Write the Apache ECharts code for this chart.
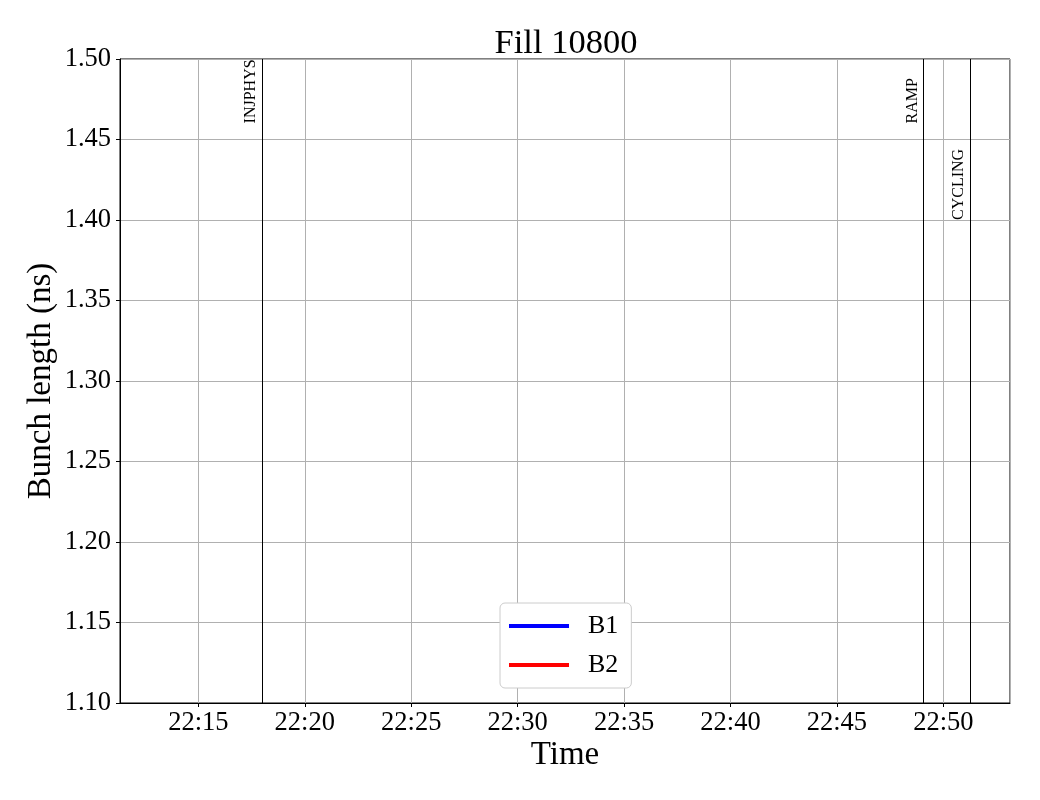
<!DOCTYPE html>
<html>
<head>
<meta charset="utf-8">
<script src="https://cdn.jsdelivr.net/npm/echarts@6/dist/echarts.min.js"></script>
<style>
html,body{margin:0;padding:0;background:#fff;}
#chart{width:1040px;height:800px;}
</style>
</head>
<body>
<div id="chart"></div>
<script>
// Time in minutes since midnight
const xMin = 1331.32;   // ~22:11:19
const xMax = 1373.13;   // ~22:53:08
const yMin = 1.10;
const yMax = 1.50;
const yInterval = 0.05;

const seriesNames = ['B1', 'B2'];
const seriesColors = ['#0000ff', '#ff0000'];
const b1Values = [];   // no data shown in the figure
const b2Values = [];

const modeNames = ['INJPHYS', 'RAMP', 'CYCLING'];
const modeTimes = [1337.98, 1369.06, 1371.25];
const modeLabelY = [1.46, 1.46, 1.40];

const FONT = 'Liberation Serif';

function fmtTime(v) {
  const m = Math.round(v);
  const h = Math.floor(m / 60);
  const mm = m % 60;
  return String(h).padStart(2, '0') + ':' + String(mm).padStart(2, '0');
}

const chart = echarts.init(document.getElementById('chart'), null, {renderer: 'canvas'});

const markLineData = modeTimes.map(t => ({xAxis: t}));
const markPointData = modeNames.map((n, i) => ({name: n, coord: [modeTimes[i], modeLabelY[i]]}));

const option = {
  backgroundColor: '#ffffff',
  animation: false,
  title: {
    text: 'Fill 10800',
    left: 561,
    textAlign: 'center',
    top: 21,
    textStyle: {fontFamily: FONT, fontSize: 34.5, fontWeight: 'normal', color: '#000'}
  },
  grid: {left: 120, right: 30, top: 59, bottom: 97, show: true, borderColor: '#000', borderWidth: 1, backgroundColor: 'transparent'},
  legend: {
    data: seriesNames,
    orient: 'vertical',
    left: 500,
    top: 603,
    padding: [9, 13, 9, 9],
    itemGap: 11,
    itemWidth: 60,
    itemHeight: 4,
    icon: 'rect',
    backgroundColor: '#fff',
    borderColor: '#cccccc',
    borderWidth: 1,
    borderRadius: 5,
    textStyle: {fontFamily: FONT, fontSize: 26, color: '#000', lineHeight: 28, padding: [0, 0, 0, 14]}
  },
  xAxis: {
    type: 'value',
    min: xMin,
    max: xMax,
    splitNumber: 8,
    name: 'Time',
    nameLocation: 'middle',
    nameGap: 36,
    nameMoveOverlap: false,
    nameTextStyle: {fontFamily: FONT, fontSize: 33, color: '#000'},
    axisLine: {show: true, lineStyle: {color: '#000', width: 1}},
    axisTick: {show: true, length: 4, inside: false, lineStyle: {color: '#000'}},
    axisLabel: {
      showMinLabel: false, showMaxLabel: false,
      fontFamily: FONT, fontSize: 26.5, color: '#000', margin: 7,
      formatter: fmtTime
    },
    splitLine: {show: true, lineStyle: {color: '#b0b0b0', width: 1}}
  },
  yAxis: {
    type: 'value',
    min: yMin,
    max: yMax,
    interval: yInterval,
    name: 'Bunch length (ns)',
    nameLocation: 'middle',
    nameGap: 62,
    nameMoveOverlap: false,
    nameTextStyle: {fontFamily: FONT, fontSize: 33, color: '#000'},
    axisLine: {show: true, lineStyle: {color: '#000', width: 1}},
    axisTick: {show: true, length: 4, inside: false, lineStyle: {color: '#000'}},
    axisLabel: {fontFamily: FONT, fontSize: 26.5, color: '#000', margin: 9,
      formatter: v => v.toFixed(2)},
    splitLine: {show: true, lineStyle: {color: '#b0b0b0', width: 1}}
  },
  series: [
    {
      name: seriesNames[0],
      type: 'line',
      data: b1Values,
      symbol: 'none',
      color: seriesColors[0],
      lineStyle: {width: 4, color: seriesColors[0]},
      markLine: {
        silent: true,
        symbol: ['none', 'none'],
        label: {show: false},
        lineStyle: {color: '#000', width: 1, type: 'solid'},
        data: markLineData
      },
      markPoint: {
        silent: true,
        symbol: 'circle',
        symbolSize: 0,
        itemStyle: {color: 'transparent'},
        label: {
          show: true,
          formatter: '{b}',
          position: [-3, 0],
          rotate: 90,
          align: 'left',
          verticalAlign: 'bottom',
          fontFamily: FONT,
          fontSize: 16,
          color: '#000'
        },
        data: markPointData
      }
    },
    {
      name: seriesNames[1],
      type: 'line',
      data: b2Values,
      symbol: 'none',
      color: seriesColors[1],
      lineStyle: {width: 4, color: seriesColors[1]}
    }
  ]
};
chart.setOption(option);
</script>
</body>
</html>
